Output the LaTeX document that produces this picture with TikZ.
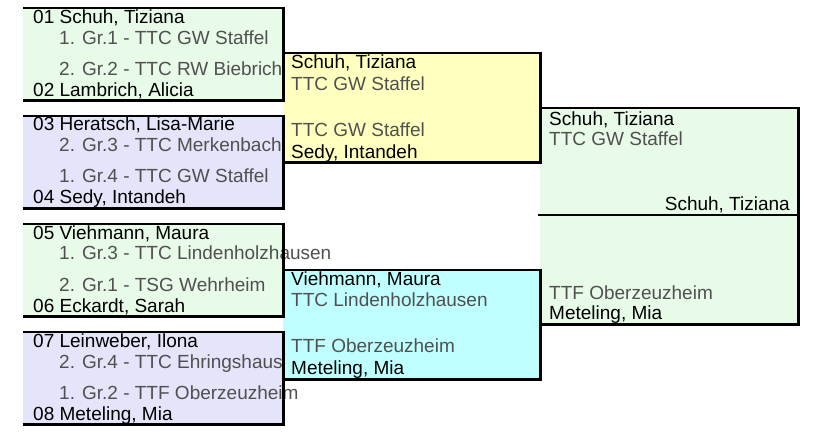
\documentclass[tikz,border=0pt]{standalone}
\usepackage{fontspec}
\setmainfont{Liberation Sans}
\definecolor{gfill}{RGB}{232,250,232}
\definecolor{pfill}{RGB}{228,228,250}
\definecolor{yfill}{RGB}{255,255,192}
\definecolor{cfill}{RGB}{192,255,255}
\definecolor{clubgray}{RGB}{80,80,80}
\newcommand{\brfs}{\fontsize{19}{21}\selectfont}
\tikzset{
  nm/.style={anchor=base west, inner sep=0pt, text=black, font=\brfs},
  cl/.style={anchor=base west, inner sep=0pt, text=clubgray, font=\brfs},
  boxfill/.style={draw=none, inner sep=0pt, anchor=north west, minimum width=#1},
  r1box/.style={boxfill=260pt, minimum height=92pt},
  r2box/.style={boxfill=257pt, minimum height=109pt},
  bline/.style={line width=2.2pt, black},
}
\begin{document}
\begin{tikzpicture}[x=1pt, y=-1pt]
\useasboundingbox[fill=white] (0,0) rectangle (813,437);
% round 1
\node[r1box, fill=gfill] (m1) at (23,8) {};
\node[r1box, fill=pfill] (m2) at (23,116) {};
\node[r1box, fill=gfill] (m3) at (23,224) {};
\node[r1box, fill=pfill] (m4) at (23,332) {};
\node[nm] (t11) at (33,23.5) {01 Schuh, Tiziana};
\node[cl] (t12) at (59,44.5) {1. Gr.1 - TTC GW Staffel};
\node[cl] (t13) at (59,75) {2. Gr.2 - TTC RW Biebrich};
\node[nm] (t14) at (33,96.5) {02 Lambrich, Alicia};
\node[nm] (t21) at (33,130.5) {03 Heratsch, Lisa-Marie};
\node[cl] (t22) at (59,151.5) {2. Gr.3 - TTC Merkenbach};
\node[cl] (t23) at (59,182) {1. Gr.4 - TTC GW Staffel};
\node[nm] (t24) at (33,203.5) {04 Sedy, Intandeh};
\node[nm] (t31) at (33,239.5) {05 Viehmann, Maura};
\node[cl] (t32) at (59,259.5) {1. Gr.3 - TTC Lindenholzhausen};
\node[cl] (t33) at (59,291) {2. Gr.1 - TSG Wehrheim};
\node[nm] (t34) at (33,312.5) {06 Eckardt, Sarah};
\node[nm] (t41) at (33,347.5) {07 Leinweber, Ilona};
\node[cl] (t42) at (59,368.5) {2. Gr.4 - TTC Ehringshausen};
\node[cl] (t43) at (59,399) {1. Gr.2 - TTF Oberzeuzheim};
\node[nm] (t44) at (33,420.5) {08 Meteling, Mia};
% round 2
\node[r2box, fill=yfill] (s1) at (283,53) {};
\node[r2box, fill=cfill] (s2) at (283,270) {};
\node[nm] (u11) at (291,68.5) {Schuh, Tiziana};
\node[cl] (u12) at (291,90) {TTC GW Staffel};
\node[cl] (u13) at (291,136.5) {TTC GW Staffel};
\node[nm] (u14) at (291,158) {Sedy, Intandeh};
\node[nm] (u21) at (291,285) {Viehmann, Maura};
\node[cl] (u22) at (291,306.5) {TTC Lindenholzhausen};
\node[cl] (u23) at (291,352.5) {TTF Oberzeuzheim};
\node[nm] (u24) at (291,374) {Meteling, Mia};
% final
\node[boxfill=258pt, minimum height=216pt, fill=gfill] (f) at (540,108) {};
\coordinate (fmidL) at (538,215);
\coordinate (fmidR) at (798,215);
\node[nm] (v1) at (549,125) {Schuh, Tiziana};
\node[cl] (v2) at (549,145.5) {TTC GW Staffel};
\node[nm, anchor=base east] (v3) at (790,210) {Schuh, Tiziana};
\node[cl] (v4) at (549,299) {TTF Oberzeuzheim};
\node[nm] (v5) at (549,319.5) {Meteling, Mia};
% bracket lines
\foreach \b in {m1,m2,m3,m4,s1,s2,f}{
  \draw[bline] (\b.north west) -| (\b.south east) -- (\b.south west);
}
\draw[bline] (fmidL) -- (fmidR);
\end{tikzpicture}
\end{document}
